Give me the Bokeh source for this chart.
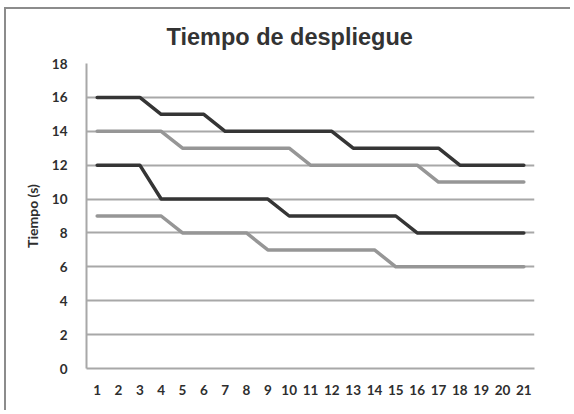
from bokeh.plotting import figure
from bokeh.models import Range1d, FixedTicker
from bokeh.embed import file_html
from bokeh.resources import INLINE

title_text = "Tiempo de despliegue"
x_vals = list(range(1, 22))
dark_top = [16, 16, 16, 15, 15, 15, 14, 14, 14, 14, 14, 14, 13, 13, 13, 13, 13, 12, 12, 12, 12]
gray_top = [14, 14, 14, 14, 13, 13, 13, 13, 13, 13, 12, 12, 12, 12, 12, 12, 11, 11, 11, 11, 11]
dark_bottom = [12, 12, 12, 10, 10, 10, 10, 10, 10, 9, 9, 9, 9, 9, 9, 8, 8, 8, 8, 8, 8]
gray_bottom = [9, 9, 9, 9, 8, 8, 8, 8, 7, 7, 7, 7, 7, 7, 6, 6, 6, 6, 6, 6, 6]
y_ticks = list(range(0, 20, 2))

DARK = "#353535"
GRAY = "#969696"
GRID = "#a8a8a8"
TEXT = "#2e2e2e"

p = figure(width=566, height=403, output_backend="svg", toolbar_location=None,
           x_range=Range1d(0.5, 21.5), y_range=Range1d(0, 18),
           min_border_left=80, min_border_right=38, min_border_top=54, min_border_bottom=44,
           title=title_text)
p.styles = {"border-left": "2px solid #8c8c8c", "border-top": "2px solid #8c8c8c",
            "margin-left": "4px", "margin-top": "7px"}

p.title.align = "left"
p.title.offset = 80
p.title.standoff = 24
p.title.vertical_align = "top"
p.title.text_font = "Liberation Sans"
p.title.text_font_size = "23.5px"
p.title.text_font_style = "bold"
p.title.text_color = "#333333"

p.outline_line_color = None
p.background_fill_color = "white"
p.border_fill_color = "white"

for ys, col, w in [(gray_bottom, GRAY, 3.5), (dark_bottom, DARK, 3.5),
                   (gray_top, GRAY, 3.5), (dark_top, DARK, 3.5)]:
    p.line(x_vals, ys, line_color=col, line_width=w, line_join="round", line_cap="round")

p.xgrid.visible = False
p.ygrid.grid_line_color = GRID
p.ygrid.grid_line_width = 2
p.ygrid.ticker = FixedTicker(ticks=y_ticks)

p.yaxis.ticker = FixedTicker(ticks=y_ticks)
p.xaxis.ticker = FixedTicker(ticks=x_vals)
for ax in (p.xaxis, p.yaxis):
    ax.major_tick_line_color = None
    ax.minor_tick_line_color = None
    ax.axis_line_color = GRID
    ax.axis_line_width = 2
    ax.major_label_text_font = "Lato"
    ax.major_label_text_font_style = "bold"
    ax.major_label_text_font_size = "13.5px"
    ax.major_label_text_color = TEXT

p.xaxis.major_label_standoff = 10
p.yaxis.major_label_standoff = 13
p.yaxis.axis_label = "Tiempo (s)"
p.yaxis.axis_label_text_font = "Lato"
p.yaxis.axis_label_text_font_style = "bold"
p.yaxis.axis_label_text_font_size = "14px"
p.yaxis.axis_label_text_color = TEXT
p.yaxis.axis_label_standoff = 8

open("out.html", "w").write(file_html(p, INLINE))
